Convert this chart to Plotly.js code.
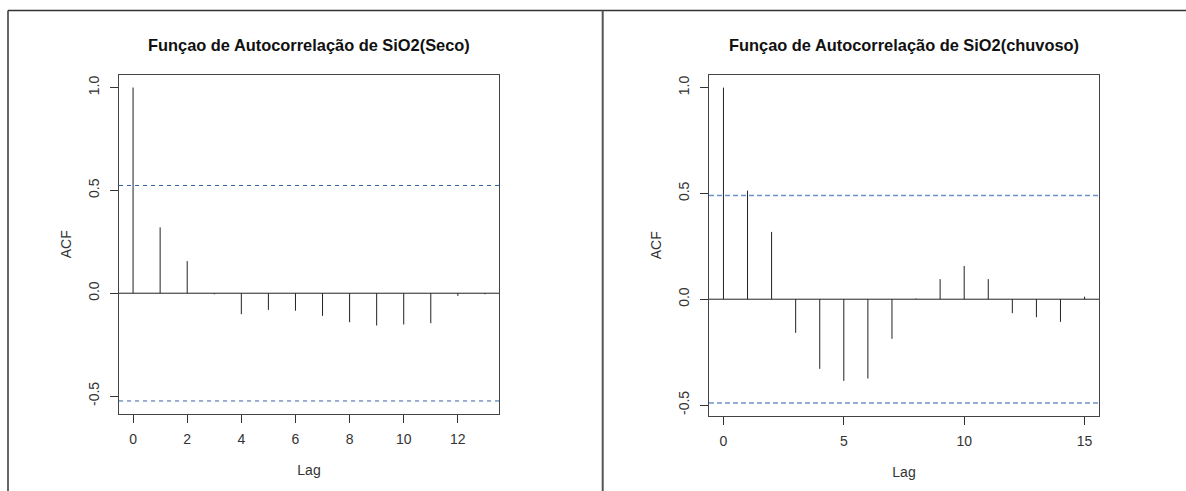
<!DOCTYPE html>
<html>
<head>
<meta charset="utf-8">
<script src="https://cdn.plot.ly/plotly-3.0.1.min.js"></script>
<style>html,body{margin:0;padding:0;background:#fff;}#chart{width:1186px;height:491px;}</style>
</head>
<body>
<div id="chart"></div>
<script>
// ---- data ----
const lagsSeco = [0,1,2,3,4,5,6,7,8,9,10,11,12,13];
const acfSeco = [1.0,0.32,0.156,-0.005,-0.102,-0.081,-0.085,-0.11,-0.141,-0.157,-0.152,-0.146,-0.013,-0.005];
const nSeco = 14;

const lagsChuvoso = [0,1,2,3,4,5,6,7,8,9,10,11,12,13,14,15];
const acfChuvoso = [1.0,0.513,0.318,-0.159,-0.329,-0.386,-0.375,-0.187,0.003,0.095,0.157,0.095,-0.066,-0.085,-0.107,0.012];
const nChuvoso = 16;

const titleSeco = "Funçao de Autocorrelação de SiO2(Seco)";
const titleChuvoso = "Funçao de Autocorrelação de SiO2(chuvoso)";
const xTicksSeco = [0,2,4,6,8,10,12];
const xTicksChuvoso = [0,5,10,15];
const yTicks = [-0.5,0.0,0.5,1.0];
const yTickText = ["-0.5","0.0","0.5","1.0"];

// ---- helpers ----
function stems(lags, vals){
  const x=[], y=[];
  for(let i=0;i<lags.length;i++){ x.push(lags[i],lags[i],null); y.push(0,vals[i],null); }
  return {x,y};
}
function rng(lo,hi){ const d=(hi-lo)*0.04; return [lo-d,hi+d]; }

const W=1186, H=491;
const font = "Liberation Sans, Arial, sans-serif";
const climS = 1.96/Math.sqrt(nSeco), climC = 1.96/Math.sqrt(nChuvoso);

const s1 = stems(lagsSeco, acfSeco), s2 = stems(lagsChuvoso, acfChuvoso);
const traces = [
  {x:s1.x, y:s1.y, xaxis:'x', yaxis:'y', mode:'lines', line:{color:'#222', width:1}, hoverinfo:'skip', showlegend:false},
  {x:s2.x, y:s2.y, xaxis:'x2', yaxis:'y2', mode:'lines', line:{color:'#222', width:1}, hoverinfo:'skip', showlegend:false}
];

const yMinS = Math.min(...acfSeco, -climS), yMaxS = Math.max(...acfSeco, climS);
const yMinC = Math.min(...acfChuvoso, -climC), yMaxC = Math.max(...acfChuvoso, climC);

function xaxis(domain, lags, ticks){
  return {domain, range:rng(Math.min(...lags), Math.max(...lags)), tickvals:ticks, ticktext:ticks.map(String),
    ticks:'outside', ticklen:8, tickwidth:1, tickcolor:'#333', showline:true, mirror:true, linecolor:'#444', linewidth:1,
    showgrid:false, zeroline:false, tickfont:{family:font,size:14,color:'#333'}, ticklabelstandoff:5,
    title:{text:'Lag', font:{family:font,size:14,color:'#333'}, standoff:18}, fixedrange:true};
}
function yaxis(domain, lo, hi, anchor){
  return {domain, anchor, range:rng(lo,hi), tickvals:yTicks, ticktext:yTickText, tickangle:-90,
    ticks:'outside', ticklen:8, tickwidth:1, tickcolor:'#333', showline:true, mirror:true, linecolor:'#444', linewidth:1,
    showgrid:false, zeroline:false, tickfont:{family:font,size:14,color:'#333'}, ticklabelstandoff:5,
    title:{text:'ACF', font:{family:font,size:14,color:'#333'}, standoff:11}, fixedrange:true};
}

const layout = {
  width:W, height:H, margin:{l:0,r:0,t:0,b:0}, paper_bgcolor:'#fff', plot_bgcolor:'#fff', showlegend:false,
  xaxis: Object.assign(xaxis([119/W, 499/W], lagsSeco, xTicksSeco), {anchor:'y'}),
  yaxis: yaxis([1-413.5/H, 1-75/H], yMinS, yMaxS, 'x'),
  xaxis2: Object.assign(xaxis([709/W, 1099/W], lagsChuvoso, xTicksChuvoso), {anchor:'y2'}),
  yaxis2: yaxis([1-415.5/H, 1-75/H], yMinC, yMaxC, 'x2'),
  annotations:[
    {text:'<b>'+titleSeco+'</b>', xref:'paper', yref:'paper', x:(119+499)/2/W, y:1-45/H, xanchor:'center', yanchor:'middle', showarrow:false, font:{family:font,size:16.4,color:'#111'}},
    {text:'<b>'+titleChuvoso+'</b>', xref:'paper', yref:'paper', x:(709+1099)/2/W, y:1-45/H, xanchor:'center', yanchor:'middle', showarrow:false, font:{family:font,size:16.4,color:'#111'}}
  ],
  shapes:[
    // zero lines
    {type:'line', xref:'x domain', yref:'y', x0:0, x1:1, y0:0, y1:0, line:{color:'#222', width:1}},
    {type:'line', xref:'x2 domain', yref:'y2', x0:0, x1:1, y0:0, y1:0, line:{color:'#222', width:1}},
    // confidence limits
    {type:'line', xref:'x domain', yref:'y', x0:0, x1:1, y0:climS, y1:climS, line:{color:'#2f62ad', width:1, dash:'4px,4px'}},
    {type:'line', xref:'x domain', yref:'y', x0:0, x1:1, y0:-climS, y1:-climS, line:{color:'#2f62ad', width:1, dash:'4px,4px'}},
    {type:'line', xref:'x2 domain', yref:'y2', x0:0, x1:1, y0:climC, y1:climC, line:{color:'#6f93cc', width:1.5, dash:'5px,3px'}},
    {type:'line', xref:'x2 domain', yref:'y2', x0:0, x1:1, y0:-climC, y1:-climC, line:{color:'#6f93cc', width:1.5, dash:'5px,3px'}},
    // outer frames
    {type:'line', xref:'paper', yref:'paper', x0:8/W, x1:1, y0:1-10.5/H, y1:1-10.5/H, line:{color:'#333', width:1.5}},
    {type:'line', xref:'paper', yref:'paper', x0:8/W, x1:8/W, y0:0, y1:1-10.5/H, line:{color:'#333', width:1.5}},
    {type:'line', xref:'paper', yref:'paper', x0:602.7/W, x1:602.7/W, y0:0, y1:1-10.5/H, line:{color:'#555', width:2}}
  ]
};

Plotly.newPlot('chart', traces, layout, {staticPlot:true, displayModeBar:false});
</script>
</body>
</html>
